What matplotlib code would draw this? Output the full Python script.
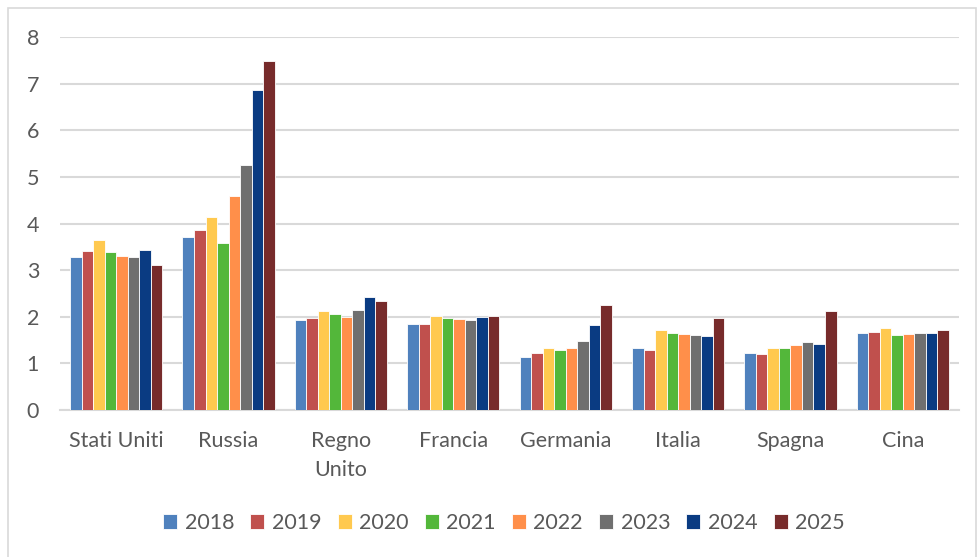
import numpy as np
import matplotlib.pyplot as plt
from matplotlib.patches import Rectangle

plt.rcParams['font.family'] = ['Lato', 'DejaVu Sans']

paesi = ['Stati Uniti', 'Russia', 'Regno\nUnito', 'Francia', 'Germania', 'Italia', 'Spagna', 'Cina']
anni = ['2018', '2019', '2020', '2021', '2022', '2023', '2024', '2025']

v2018 = [3.29, 3.71, 1.93, 1.84, 1.14, 1.34, 1.23, 1.66]
v2019 = [3.41, 3.86, 1.98, 1.84, 1.23, 1.29, 1.21, 1.68]
v2020 = [3.64, 4.13, 2.13, 2.02, 1.34, 1.71, 1.34, 1.75]
v2021 = [3.39, 3.58, 2.06, 1.97, 1.29, 1.65, 1.33, 1.60]
v2022 = [3.30, 4.60, 2.00, 1.95, 1.34, 1.64, 1.40, 1.62]
v2023 = [3.29, 5.26, 2.15, 1.94, 1.49, 1.60, 1.46, 1.66]
v2024 = [3.43, 6.86, 2.43, 2.00, 1.83, 1.58, 1.42, 1.66]
v2025 = [3.11, 7.49, 2.34, 2.02, 2.26, 1.97, 2.12, 1.71]
serie = [v2018, v2019, v2020, v2021, v2022, v2023, v2024, v2025]

colori = ['#4F81BD', '#C0504D', '#FFC94F', '#53B73A', '#FF8F4A', '#6F6F6F', '#0A3B82', '#772B2B']

fig = plt.figure(figsize=(9.79, 5.57), dpi=100)
ax = fig.add_axes([60 / 979, 147 / 557, 899 / 979, 373 / 557])

# cornice esterna grigia
fig.patches.append(Rectangle((8 / 979, -0.01), 968 / 979, 1 - 8 / 557 + 0.01,
                             transform=fig.transFigure, fill=False,
                             edgecolor='#D9D9D9', linewidth=1.2))

x = np.arange(len(paesi))
larghezza = 0.82 / len(anni)
for i, (anno, valori) in enumerate(zip(anni, serie)):
    pos = x - 0.41 + larghezza * (i + 0.5)
    ax.bar(pos, valori, width=larghezza, color=colori[i], edgecolor='white',
           linewidth=0.6, label=anno, zorder=3)

ax.set_xlim(-0.5, len(paesi) - 0.5)
ax.set_ylim(0, 8)
ax.set_yticks(range(0, 9))
ax.yaxis.grid(True, color='#D9D9D9', linewidth=1.5, zorder=0)
ax.set_axisbelow(True)
for lato in ['top', 'right', 'left']:
    ax.spines[lato].set_visible(False)
ax.spines['bottom'].set_color('#D9D9D9')
ax.spines['bottom'].set_linewidth(1.5)

ax.set_xticks(x)
ax.set_xticklabels(paesi, linespacing=1.55)
ax.tick_params(axis='both', length=0, labelsize=15.5, labelcolor='#595959')
ax.tick_params(axis='x', pad=15)
ax.tick_params(axis='y', pad=15)

fig.legend(loc='center', bbox_to_anchor=(504 / 979, 1 - 523 / 557), ncol=8,
           frameon=False, fontsize=15.5, handlelength=0.65, handleheight=0.65,
           handletextpad=0.35, columnspacing=0.75, labelcolor='#595959')

fig.savefig('out.png', dpi=100)
